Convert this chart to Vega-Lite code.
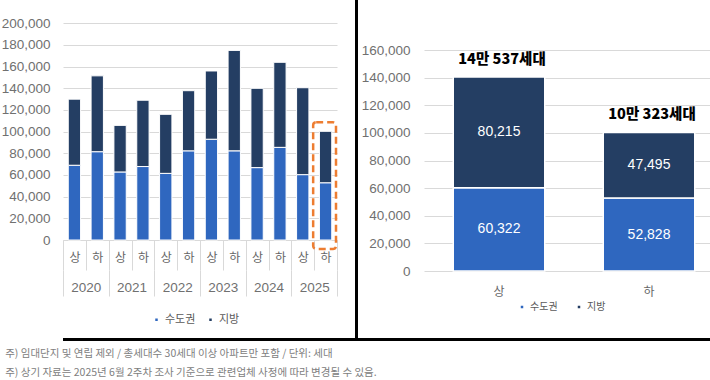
{
  "$schema": "https://vega.github.io/schema/vega-lite/v6.json",
  "background": "white",
  "padding": {"left": 1, "top": 0, "right": 0, "bottom": 0},
  "datasets": {
    "half": [
      {"year": "2020", "half": "상", "period": "2020상", "region": "수도권", "value": 69000},
      {"year": "2020", "half": "상", "period": "2020상", "region": "지방", "value": 61000},
      {"year": "2020", "half": "하", "period": "2020하", "region": "수도권", "value": 81500},
      {"year": "2020", "half": "하", "period": "2020하", "region": "지방", "value": 70000},
      {"year": "2021", "half": "상", "period": "2021상", "region": "수도권", "value": 62800},
      {"year": "2021", "half": "상", "period": "2021상", "region": "지방", "value": 43000},
      {"year": "2021", "half": "하", "period": "2021하", "region": "수도권", "value": 67800},
      {"year": "2021", "half": "하", "period": "2021하", "region": "지방", "value": 61200},
      {"year": "2022", "half": "상", "period": "2022상", "region": "수도권", "value": 61500},
      {"year": "2022", "half": "상", "period": "2022상", "region": "지방", "value": 54500},
      {"year": "2022", "half": "하", "period": "2022하", "region": "수도권", "value": 82300},
      {"year": "2022", "half": "하", "period": "2022하", "region": "지방", "value": 55500},
      {"year": "2023", "half": "상", "period": "2023상", "region": "수도권", "value": 93000},
      {"year": "2023", "half": "상", "period": "2023상", "region": "지방", "value": 63000},
      {"year": "2023", "half": "하", "period": "2023하", "region": "수도권", "value": 82300},
      {"year": "2023", "half": "하", "period": "2023하", "region": "지방", "value": 92700},
      {"year": "2024", "half": "상", "period": "2024상", "region": "수도권", "value": 66800},
      {"year": "2024", "half": "상", "period": "2024상", "region": "지방", "value": 73200},
      {"year": "2024", "half": "하", "period": "2024하", "region": "수도권", "value": 85500},
      {"year": "2024", "half": "하", "period": "2024하", "region": "지방", "value": 78500},
      {"year": "2025", "half": "상", "period": "2025상", "region": "수도권", "value": 60322},
      {"year": "2025", "half": "상", "period": "2025상", "region": "지방", "value": 80215},
      {"year": "2025", "half": "하", "period": "2025하", "region": "수도권", "value": 52828},
      {"year": "2025", "half": "하", "period": "2025하", "region": "지방", "value": 47495}
    ],
    "recent": [
      {"half": "상", "region": "수도권", "value": 60322},
      {"half": "상", "region": "지방", "value": 80215},
      {"half": "하", "region": "수도권", "value": 52828},
      {"half": "하", "region": "지방", "value": 47495}
    ],
    "totals": [
      {"half": "상", "total": 140537, "label": "14만 537세대"},
      {"half": "하", "total": 100323, "label": "10만 323세대"}
    ]
  },
  "title": {
    "text": ["주) 임대단지 및 연립 제외 / 총세대수 30세대 이상 아파트만 포함 / 단위: 세대", "주) 상기 자료는 2025년 6월 2주차 조사 기준으로 관련업체 사정에 따라 변경될 수 있음."],
    "orient": "bottom", "anchor": "start", "fontSize": 10.5, "fontWeight": "normal",
    "color": "#808080", "lineHeight": 19, "offset": 8, "dx": 4, "font": "Noto Sans CJK KR"
  },
  "spacing": 0,
  "resolve": {"scale": {"color": "independent", "x": "independent", "y": "independent"}, "legend": {"color": "independent"}},
  "vconcat": [
    {
      "spacing": 3,
      "resolve": {"scale": {"color": "independent", "x": "independent", "y": "independent"}, "legend": {"color": "independent"}},
      "hconcat": [
        {
          "spacing": 17,
          "resolve": {"scale": {"color": "independent", "x": "independent", "y": "independent"}, "legend": {"color": "independent"}},
          "hconcat": [
            {
              "width": 274, "height": 240,
              "resolve": {"scale": {"x": "independent"}, "axis": {"x": "independent"}},
              "layer": [
                {
                  "data": {"name": "half"},
                  "layer": [
                    {
                      "mark": {"type": "bar", "width": {"band": 0.54}, "stroke": "white", "strokeWidth": 1},
                      "encoding": {
                        "x": {"field": "period", "type": "nominal", "sort": null,
                          "scale": {"paddingInner": 0, "paddingOuter": 0},
                          "axis": {"orient": "bottom", "title": null, "labelExpr": "substring(datum.label, 4)", "labelAngle": 0,
                            "domain": true, "domainColor": "#D9D9D9", "ticks": true, "tickBand": "extent",
                            "tickSize": 30, "tickColor": "#D9D9D9", "labelPadding": -18, "labelFontSize": 12,
                            "labelColor": "#666666", "labelFont": "Noto Sans CJK KR"}},
                        "y": {"aggregate": "sum", "field": "value", "type": "quantitative", "stack": "zero",
                          "scale": {"domain": [0, 221500], "nice": false},
                          "axis": {"title": null, "values": [0, 20000, 40000, 60000, 80000, 100000, 120000, 140000, 160000, 180000, 200000],
                            "tickCount": 20, "format": ",.0f", "grid": true, "gridColor": "#D9D9D9", "domain": false, "ticks": false,
                            "labelOverlap": false, "labelPadding": 13, "labelFontSize": 13.5, "labelColor": "#707070",
                            "labelFont": "Liberation Sans"}},
                        "color": {"field": "region", "type": "nominal",
                          "scale": {"domain": ["수도권", "지방"], "range": ["#2F67BF", "#243E63"]},
                          "legend": {"orient": "none", "legendX": 88, "legendY": 314, "direction": "horizontal",
                            "title": null, "symbolType": "square", "symbolSize": 16, "labelFontSize": 11,
                            "labelColor": "#595959", "labelOffset": 3, "columnPadding": 9}},
                        "order": {"field": "region", "sort": "ascending"}
                      }
                    },
                    {
                      "transform": [
                        {"filter": "datum.period == '2025하'"},
                        {"aggregate": [{"op": "sum", "field": "value", "as": "total"}], "groupby": ["period"]}
                      ],
                      "mark": {"type": "rect", "filled": false, "stroke": "#ED7D31", "strokeWidth": 2.5,
                        "strokeDash": [7, 4], "cornerRadius": 3, "clip": false,
                        "yOffset": -9, "y2Offset": 9, "xOffset": -1, "x2Offset": 2},
                      "encoding": {
                        "x": {"field": "period", "type": "nominal", "sort": null},
                        "y": {"field": "total", "type": "quantitative"},
                        "y2": {"datum": 0}
                      }
                    }
                  ]
                },
                {
                  "data": {"name": "half"},
                  "mark": {"type": "tick", "opacity": 0},
                  "encoding": {
                    "x": {"field": "year", "type": "nominal",
                      "scale": {"paddingInner": 0, "paddingOuter": 0},
                      "axis": {"orient": "bottom", "offset": 30, "title": null, "labelAngle": 0, "domain": false, "ticks": true, "tickBand": "extent",
                        "tickSize": 26, "tickColor": "#D9D9D9", "labelPadding": -16, "labelFontSize": 13.5,
                        "labelColor": "#707070", "labelFont": "Liberation Sans", "grid": false}}
                  }
                }
              ]
            },
            {
              "width": 3, "height": 338,
              "data": {"values": []},
              "mark": {"type": "point", "opacity": 0},
              "encoding": {},
              "view": {"fill": "black", "stroke": null}
            }
          ]
        },
        {
          "width": 286, "height": 271,
          "data": {"name": "recent"},
          "layer": [
            {
              "mark": {"type": "bar", "width": {"band": 0.61}, "stroke": "white", "strokeWidth": 1.5},
              "encoding": {
                "x": {"field": "half", "type": "nominal", "sort": ["상", "하"],
                  "scale": {"paddingInner": 0, "paddingOuter": 0, "rangeMax": 300},
                  "axis": {"title": null, "labelAngle": 0, "domain": false, "ticks": false, "labelPadding": 15,
                    "labelFontSize": 12, "labelColor": "#666666"}},
                "y": {"aggregate": "sum", "field": "value", "type": "quantitative", "stack": "zero",
                  "scale": {"domain": [0, 196250], "nice": false},
                  "axis": {"title": null, "values": [0, 20000, 40000, 60000, 80000, 100000, 120000, 140000, 160000],
                    "tickCount": 20, "format": ",.0f", "grid": true, "gridColor": "#D9D9D9", "domain": false, "ticks": false,
                    "labelOverlap": false, "labelPadding": 14, "labelFontSize": 13.5, "labelColor": "#707070",
                    "labelFont": "Liberation Sans"}},
                "color": {"field": "region", "type": "nominal",
                  "scale": {"domain": ["수도권", "지방"], "range": ["#2F67BF", "#243E63"]},
                  "legend": {"orient": "none", "legendX": 93, "legendY": 302, "direction": "horizontal",
                    "title": null, "symbolType": "square", "symbolSize": 16, "labelFontSize": 10,
                    "labelColor": "#595959", "labelOffset": 3, "columnPadding": 16}},
                "order": {"field": "region", "sort": "ascending"}
              }
            },
            {
              "transform": [
                {"stack": "value", "groupby": ["half"], "sort": [{"field": "region", "order": "ascending"}], "as": ["y0", "y1"]},
                {"calculate": "(datum.y0 + datum.y1) / 2", "as": "mid"}
              ],
              "mark": {"type": "text", "color": "white", "fontSize": 14, "font": "Liberation Sans"},
              "encoding": {
                "x": {"field": "half", "type": "nominal", "sort": ["상", "하"]},
                "y": {"field": "mid", "type": "quantitative"},
                "text": {"field": "value", "type": "quantitative", "format": ","}
              }
            },
            {
              "data": {"name": "totals"},
              "mark": {"type": "text", "fontSize": 14.5, "fontWeight": 900, "color": "black", "dy": -17, "dx": 3},
              "encoding": {
                "x": {"field": "half", "type": "nominal", "sort": ["상", "하"]},
                "y": {"field": "total", "type": "quantitative"},
                "text": {"field": "label"}
              }
            }
          ]
        }
      ]
    },
    {
      "width": 709, "height": 3,
      "data": {"values": []},
      "mark": {"type": "point", "opacity": 0},
      "encoding": {},
      "view": {"fill": "black", "stroke": null}
    }
  ],
  "config": {
    "view": {"stroke": null},
    "font": "Noto Sans CJK KR",
    "axis": {"labelFont": "Noto Sans CJK KR"},
    "legend": {"labelFont": "Noto Sans CJK KR"}
  }
}
